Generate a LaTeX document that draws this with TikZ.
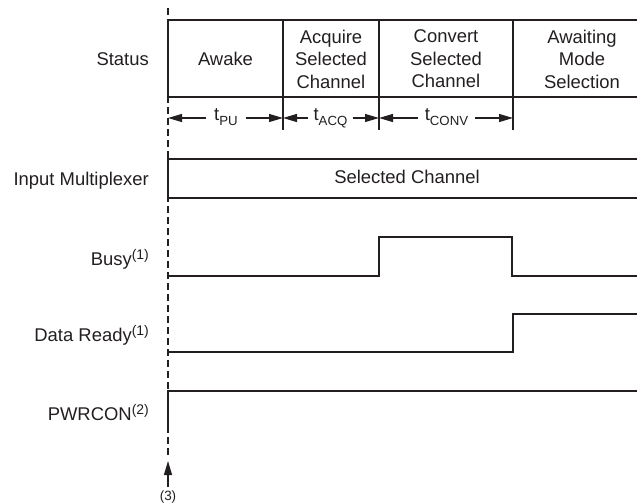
\documentclass[tikz,border=0pt]{standalone}
\usepackage{fontspec}
\setmainfont{Liberation Sans}
\usetikzlibrary{arrows.meta}
\definecolor{ink}{HTML}{231F20}
\newcommand\supx[1]{\raisebox{6bp}{\fontsize{14}{14}\selectfont #1}}
\newcommand\subx[1]{\raisebox{-4.5bp}{\fontsize{13.3}{13.3}\selectfont #1}}
\begin{document}
\begin{tikzpicture}[x=1bp,y=-1bp,
  lbl/.style={font=\fontsize{18.5}{22.5}\selectfont, inner sep=0pt, text=ink},
  cell/.style={lbl, align=center},
  sig/.style={line width=2.5bp, draw=ink, line join=miter},
  boxline/.style={line width=2.3bp, draw=ink},
  thinline/.style={line width=1.1bp, draw=ink},
  tarrow/.style={line width=1.1bp, draw=ink, -{Triangle[length=14bp,width=8bp]}},
  dashline/.style={line width=2.6bp, draw=ink, dash pattern=on 7bp off 4bp}
]
\useasboundingbox (0,0) rectangle (637,504);

% status box
\draw[boxline] (637,20) -- (168,20) -- (168,97) -- (637,97);
\foreach \x in {283,379,513} {
  \draw[boxline, line width=1.6bp] (\x,20) -- (\x,97);
  \draw[thinline] (\x,97) -- (\x,130);
}
\node[cell] (awake) at (225.5,59) {Awake};
\node[cell] (acq) at (331,59) {Acquire\\Selected\\Channel};
\node[cell] (conv) at (446,59) {Convert\\Selected\\Channel};
\node[cell] (await) at (582,59) {Awaiting\\Mode\\Selection};

% timing arrows
\coordinate (c0) at (168,118);
\coordinate (c1) at (283,118);
\coordinate (c2) at (379,118);
\coordinate (c3) at (513,118);
\node[lbl, anchor=base, inner xsep=8bp] (tpu) at (226,121) {t\subx{PU}};
\node[lbl, anchor=base, inner xsep=5bp] (tacq) at (330.5,121) {t\subx{ACQ}};
\node[lbl, anchor=base, inner xsep=7bp] (tconv) at (446.5,121) {t\subx{CONV}};
\draw[tarrow] (tpu.west |- c0) -- (c0);
\draw[tarrow] (tpu.east |- c0) -- (c1);
\draw[tarrow] (tacq.west |- c0) -- (c1);
\draw[tarrow] (tacq.east |- c0) -- (c2);
\draw[tarrow] (tconv.west |- c0) -- (c2);
\draw[tarrow] (tconv.east |- c0) -- (c3);

% input multiplexer
\draw[boxline] (637,159) -- (168,159) -- (168,198) -- (637,198);
\node[lbl, anchor=base] (selch) at (407,184) {Selected Channel};

% busy
\draw[sig] (168,276) -- (379,276) -- (379,237) -- (512,237) -- (512,276) -- (637,276);
% data ready
\draw[sig] (168,352) -- (513,352) -- (513,314) -- (637,314);
% pwrcon
\draw[sig] (168,427) -- (168,391) -- (637,391);

% labels
\node[lbl, anchor=base east] (lstatus) at (149,66) {Status};
\node[lbl, anchor=base east] (lmux) at (149,186) {Input Multiplexer};
\node[lbl, anchor=base east] (lbusy) at (149,265) {Busy\supx{(1)}};
\node[lbl, anchor=base east] (ldr) at (149,341) {Data Ready\supx{(1)}};
\node[lbl, anchor=base east] (lpwr) at (149,420) {PWRCON\supx{(2)}};

% dashed marker line
\draw[dashline] (168,8) -- (168,456);
\node[font=\fontsize{13.5}{13.5}\selectfont, text=ink, inner sep=0pt, anchor=base] (n3) at (168,500) {(3)};
\coordinate (tip) at (168,461);
\draw[tarrow, shorten <=3bp] (n3.north) -- (tip);
\end{tikzpicture}
\end{document}
